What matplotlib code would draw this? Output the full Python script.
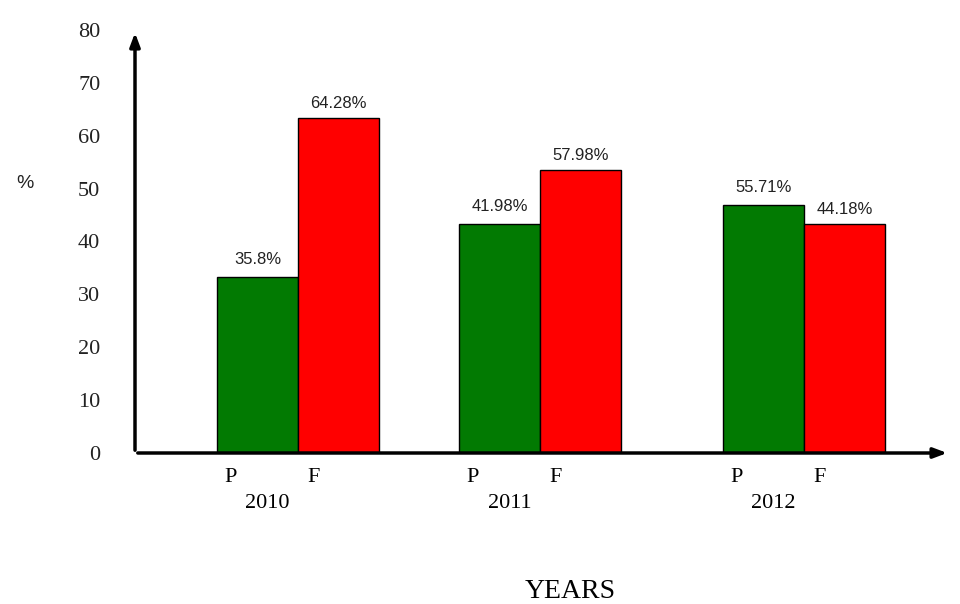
import numpy as np
import matplotlib
matplotlib.use("Agg")
import matplotlib.pyplot as plt
from matplotlib.transforms import blended_transform_factory

# data
years = ["2010", "2011", "2012"]
pass_height = [33.3, 43.3, 46.9]     # drawn bar heights (P)
fail_height = [63.4, 53.5, 43.3]     # drawn bar heights (F)
pass_labels = ["35.8%", "41.98%", "55.71%"]
fail_labels = ["64.28%", "57.98%", "44.18%"]
y_ticks = [0, 10, 20, 30, 40, 50, 60, 70, 80]

# layout
group_x = np.array([0.0, 0.957, 2.0])
w = 0.32
green = "#027a02"
red = "#ff0000"

fig = plt.figure(figsize=(9.6, 6.04), dpi=100)
ax = fig.add_axes([135 / 960, 151 / 604, 815 / 960, 423 / 604])

ax.bar(group_x - w / 2, pass_height, w, color=green, edgecolor="black", linewidth=1)
ax.bar(group_x + w / 2, fail_height, w, color=red, edgecolor="black", linewidth=1)

for x, h, s in zip(group_x - w / 2, pass_height, pass_labels):
    ax.annotate(s, (x, h), xytext=(0, 7), textcoords="offset points",
                ha="center", va="bottom", fontsize=12, family="Liberation Sans", color="#222222")
for x, h, s in zip(group_x + w / 2, fail_height, fail_labels):
    ax.annotate(s, (x, h), xytext=(0, 5), textcoords="offset points",
                ha="center", va="bottom", fontsize=12, family="Liberation Sans", color="#222222")

ax.set_xlim(-0.644, 2.577)
ax.set_ylim(0, 80)
ax.set_xticks([])
ax.set_yticks(y_ticks)
ax.set_yticklabels([str(t) for t in y_ticks], family="Liberation Serif", fontsize=16, color="#222222")
ax.tick_params(axis="y", length=0, pad=25)
for sp in ax.spines.values():
    sp.set_visible(False)

# axes with arrow heads
ax.annotate("", xy=(0, 1.0), xytext=(0, 0), xycoords="axes fraction",
            arrowprops=dict(arrowstyle="-|>,head_width=0.3,head_length=0.8", lw=2.5, color="black"))
ax.annotate("", xy=(1.0, 0), xytext=(0, 0), xycoords="axes fraction",
            arrowprops=dict(arrowstyle="-|>,head_width=0.3,head_length=0.8", lw=2.5, color="black"))

# category labels below the axis
tr = blended_transform_factory(ax.transData, ax.transAxes)
for gx, yr in zip(group_x, years):
    ax.text(gx - w / 2 - 0.107, -0.057, "P", transform=tr, ha="center", va="center",
            family="Liberation Serif", fontsize=16)
    ax.text(gx + w / 2 - 0.1, -0.057, "F", transform=tr, ha="center", va="center",
            family="Liberation Serif", fontsize=16)
    ax.text(gx - 0.12, -0.12, yr, transform=tr, ha="center", va="center",
            family="Liberation Serif", fontsize=16)

fig.text(25 / 960, 1 - 184 / 604, "%", ha="center", va="center",
         family="Liberation Sans", fontsize=14, color="#222222")
fig.text(570 / 960, 1 - 592 / 604, "YEARS", ha="center", va="center",
         family="Liberation Serif", fontsize=20)

fig.savefig("out.png", dpi=100)
